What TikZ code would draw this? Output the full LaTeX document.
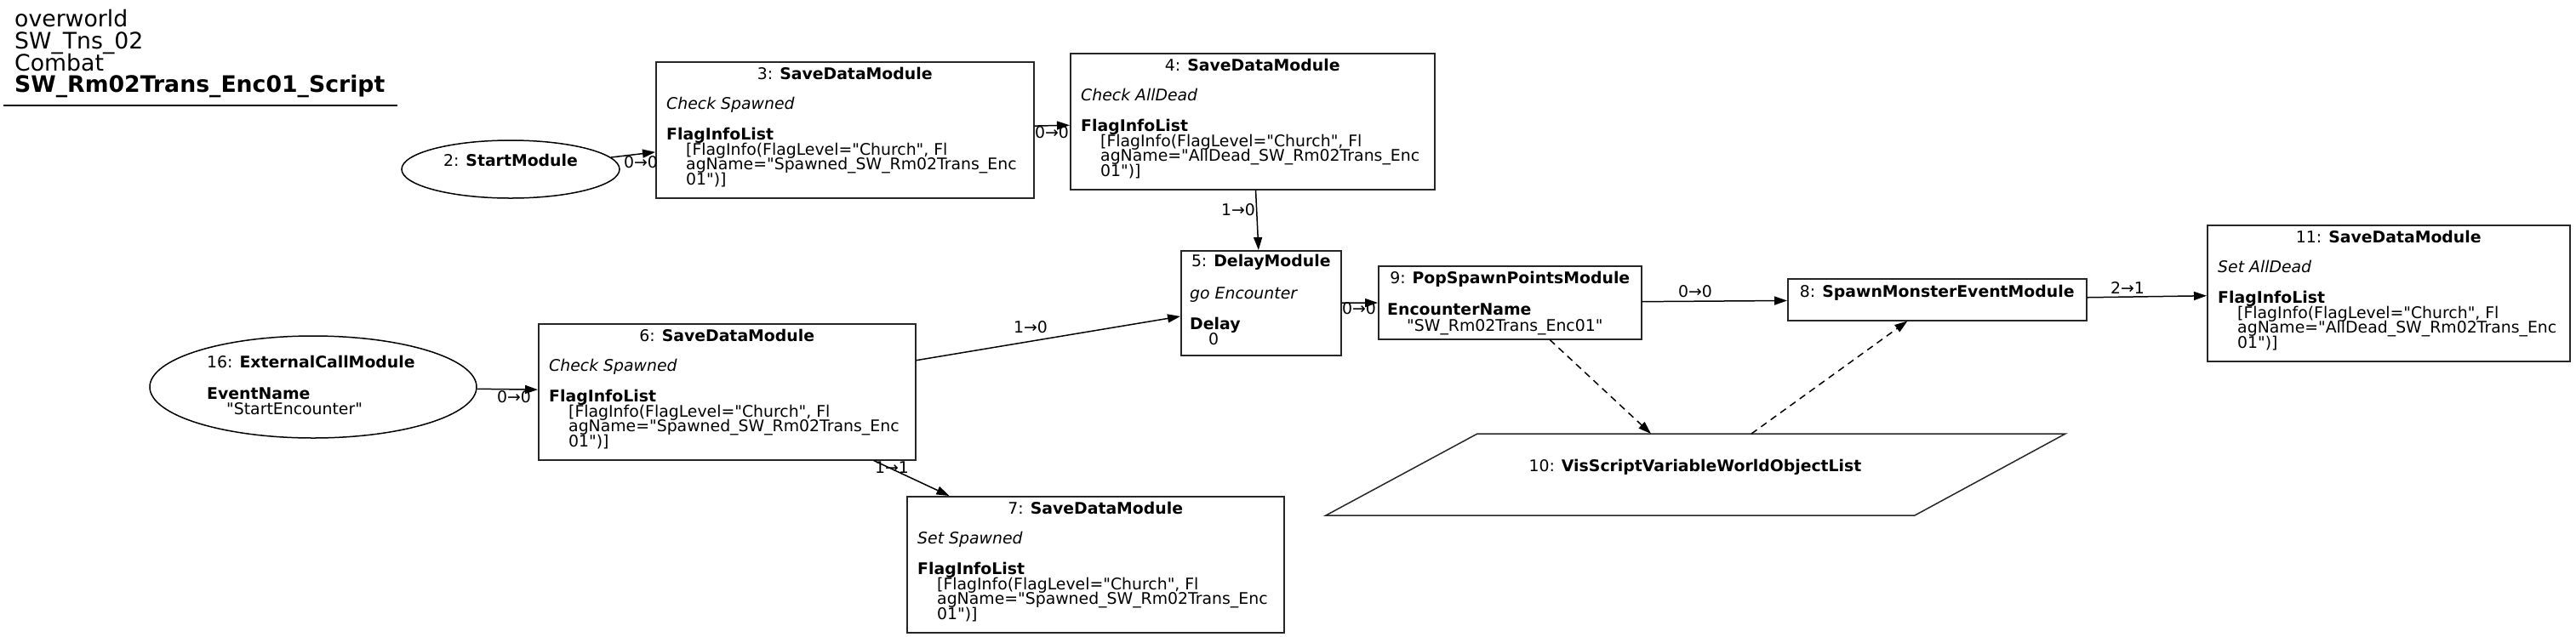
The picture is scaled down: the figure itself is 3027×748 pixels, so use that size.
\documentclass[tikz,border=0pt]{standalone}
\usepackage{fontspec}
\setmainfont{DejaVu Sans}[Ligatures=TeXOff]
\usetikzlibrary{arrows.meta,calc,shapes.geometric}
\newcommand{\nodefont}{\fontsize{18.85}{17.8}\selectfont}
\newcommand{\ttlfont}{\fontsize{26.7}{26}\selectfont}
\tikzset{
  box/.style={draw=black!85, line width=1.5pt, rectangle, inner sep=0pt, anchor=north west},
  ell/.style={draw=black, line width=1.5pt, ellipse, inner sep=0pt},
  ln/.style={anchor=base west, inner sep=0pt, font=\nodefont},
  ttl/.style={anchor=base, inner sep=0pt, font=\nodefont},
  hdr/.style={anchor=base west, inner sep=0pt, font=\ttlfont},
  edge/.style={draw, line width=1.5pt, -{Triangle[length=15pt,width=10pt]}},
  dedge/.style={edge, dash pattern=on 8pt off 6pt},
  elab/.style={inner sep=0pt, font=\nodefont},
}
\newcommand{\mkSave}[7]{%
  \node[box, minimum width=#4pt, minimum height=160pt] (#1) at (#2,#3) {};
  \node[ttl] (#1t) at ($(#1.north)+(0,21)$) {#5: \textbf{SaveDataModule}};
  \node[ln] (#1i) at ($(#1.north west)+(13,56.6)$) {\itshape #6};
  \node[ln] (#1k) at ($(#1.north west)+(13,92.2)$) {\bfseries FlagInfoList};
  \node[ln] (#1a) at ($(#1.north west)+(36,110)$) {[FlagInfo(FlagLevel="Church", Fl};
  \node[ln] (#1b) at ($(#1.north west)+(36,127.8)$) {agName="#7\_SW\_Rm02Trans\_Enc};
  \node[ln] (#1c) at ($(#1.north west)+(36,145.6)$) {01")]};
}
\begin{document}
\begin{tikzpicture}[x=1pt,y=-1pt]
\useasboundingbox (0,0) rectangle (3027,748);
% header
\node[hdr] (h1) at (17,31) {overworld};
\node[hdr] (h2) at (17,57) {SW\_Tns\_02};
\node[hdr] (h3) at (17,83) {Combat};
\node[hdr] (h4) at (17,108) {\bfseries SW\_Rm02Trans\_Enc01\_Script};
\draw[line width=1.5pt] (4,124) -- (467,124);

% node 2
\node[ell, minimum width=256pt, minimum height=68pt] (n2) at (600,199) {};
\node[ttl] (n2t) at (600,195) {2: \textbf{StartModule}};

% node 16
\node[ell, minimum width=384pt, minimum height=120pt] (n16) at (368,455) {};
\node[ln] (n16t) at (243,432) {16: \textbf{ExternalCallModule}};
\node[ln] (n16k) at (243,469) {\bfseries EventName};
\node[ln] (n16v) at (266,487) {"StartEncounter"};

% SaveDataModules
\mkSave{n3}{770}{72}{444}{3}{Check Spawned}{Spawned}
\mkSave{n4}{1257}{62}{428}{4}{Check AllDead}{AllDead}
\mkSave{n6}{632}{380}{443}{6}{Check Spawned}{Spawned}
\mkSave{n7}{1065}{583}{443}{7}{Set Spawned}{Spawned}
\mkSave{n11}{2593}{264}{426}{11}{Set AllDead}{AllDead}

% node 5
\node[box, minimum width=188pt, minimum height=123pt] (n5) at (1387,294) {};
\node[ttl] (n5t) at ($(n5.north)+(0,19.5)$) {5: \textbf{DelayModule}};
\node[ln] (n5i) at (1398,351) {\itshape go Encounter};
\node[ln] (n5k) at (1398,387.5) {\bfseries Delay};
\node[ln] (n5v) at (1420,405) {0};

% node 9
\node[box, minimum width=309pt, minimum height=86pt] (n9) at (1619,312) {};
\node[ttl] (n9t) at ($(n9.north)+(0,21.5)$) {9: \textbf{PopSpawnPointsModule}};
\node[ln] (n9k) at (1630,370) {\bfseries EncounterName};
\node[ln] (n9v) at (1653,389) {"SW\_Rm02Trans\_Enc01"};

% node 8
\node[box, minimum width=351pt, minimum height=49pt] (n8) at (2100,327) {};
\node[ttl] (n8t) at ($(n8.north)+(0,22)$) {8: \textbf{SpawnMonsterEventModule}};

% node 10
\draw[draw=black!85, line width=1.5pt] (1736,510) -- (2427,510) -- (2250,606) -- (1558,606) -- cycle;
\node[ttl] (n10) at (1992,554) {10: \textbf{VisScriptVariableWorldObjectList}};
\coordinate (t10a) at (1940,510);
\coordinate (t10b) at (2058,510);

% edges
\draw[edge] (n2) -- (n3);
\node[elab] (l23) at (753,191) {0→0};
\draw[edge] (n3) -- (n4);
\node[elab] (l34) at (1236,156) {0→0};
\draw[edge] (n4) -- (n5);
\node[elab] (l45) at (1455,247) {1→0};
\draw[edge] (n16) -- (n6);
\node[elab] (l166) at (604,467) {0→0};
\draw[edge] (n6) -- (n5);
\node[elab] (l65) at (1211,385) {1→0};
\draw[edge] (n6) -- (n7);
\node[elab] (l67) at (1048,550) {1→1};
\draw[edge] (n5) -- (n9);
\node[elab] (l59) at (1597,363) {0→0};
\draw[edge] (n9) -- (n8);
\node[elab] (l98) at (1992,343) {0→0};
\draw[edge] (n8) -- (n11);
\node[elab] (l811) at (2500,338) {2→1};
\draw[dedge] (n9) -- (t10a);
\draw[dedge] (t10b) -- (n8);
\end{tikzpicture}
\end{document}
